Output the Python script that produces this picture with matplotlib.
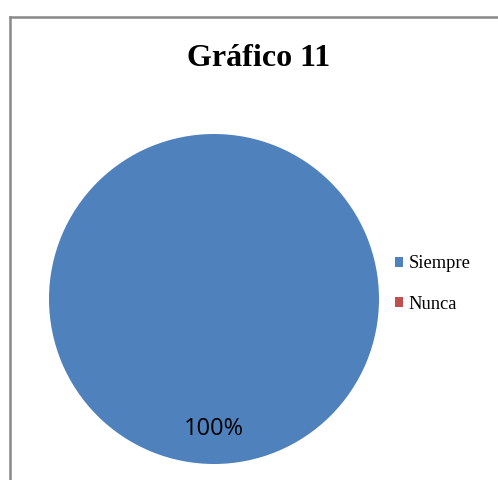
import matplotlib
matplotlib.use("Agg")
import matplotlib.pyplot as plt
from matplotlib.lines import Line2D

# data
labels = ['Siempre', 'Nunca']
values = [100, 0]
colors = ['#4F81BD', '#C0504D']

fig = plt.figure(figsize=(4.98, 4.8), dpi=100)
ax = fig.add_axes([49 / 498, 16 / 480, 330 / 498, 330 / 480])

def pct(p):
    return '%.0f%%' % p if p > 0 else ''

wedges, texts, autotexts = ax.pie(values, colors=colors, startangle=90, counterclock=False,
                                  autopct=pct, pctdistance=0.79, radius=1,
                                  textprops={'family': 'Open Sans', 'fontsize': 17})
ax.set_xlim(-1, 1)
ax.set_ylim(-1, 1)

# chart frame (top and left only visible)
fig.add_artist(Line2D([10 / 498, 1], [1 - 16.5 / 480, 1 - 16.5 / 480], color='#888888', lw=1.8,
                      transform=fig.transFigure))
fig.add_artist(Line2D([10 / 498, 10 / 498], [1 - 16.5 / 480, 0], color='#888888', lw=1.8,
                      transform=fig.transFigure))

fig.text(259 / 498, 1 - 58 / 480, 'Gráfico 11', ha='center', va='center',
         fontweight='bold', family='Liberation Serif', fontsize=23)

fig.legend(wedges, labels, loc='center left', bbox_to_anchor=(395 / 498, 1 - 284 / 480),
           bbox_transform=fig.transFigure, frameon=False, borderpad=0, borderaxespad=0,
           handlelength=0.45, handleheight=0.45, handletextpad=0.3, labelspacing=1.25,
           prop={'family': 'Liberation Serif', 'size': 13.3})

fig.savefig('out.png', dpi=100)
